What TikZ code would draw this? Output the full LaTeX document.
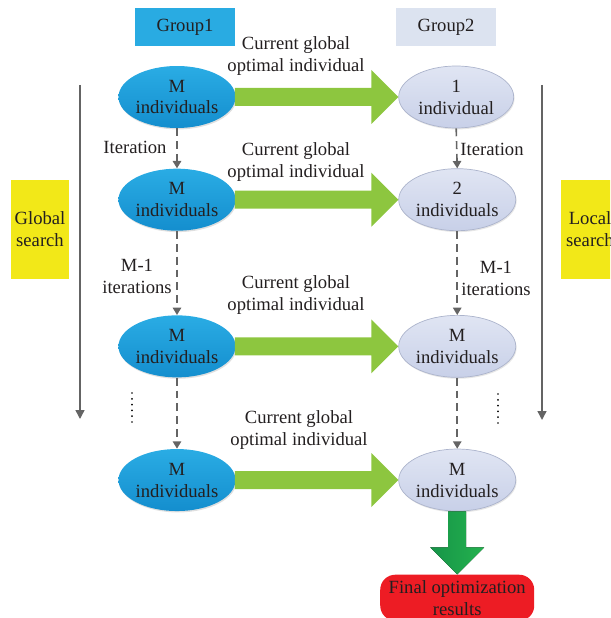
\documentclass[tikz,border=0pt]{standalone}
\usepackage{fontspec}
\setmainfont{Liberation Serif}
\usepackage{xcolor}
\usetikzlibrary{positioning,calc,shapes.geometric,shadows,arrows.meta}

\definecolor{grpcyan}{RGB}{41,171,226}
\definecolor{grplav}{RGB}{220,227,240}
\definecolor{gltop}{RGB}{42,172,228}
\definecolor{glbot}{RGB}{20,142,206}
\definecolor{lctop}{RGB}{224,229,243}
\definecolor{lcbot}{RGB}{200,208,232}
\definecolor{lcline}{RGB}{172,180,204}
\definecolor{fwdgreen}{RGB}{141,198,63}
\definecolor{findark}{RGB}{22,148,72}
\definecolor{finlight}{RGB}{36,178,78}
\definecolor{resred}{RGB}{237,28,36}
\definecolor{srchyel}{RGB}{242,232,24}
\definecolor{arrgray}{RGB}{100,100,100}
\definecolor{txt}{RGB}{35,31,32}

\begin{document}
\begin{tikzpicture}[x=0.02cm,y=-0.02cm,
				font=\fontsize{10.6}{12.5}\selectfont,
				every node/.style={text=txt},
				grp/.style={
					inner sep=0pt, align=center,
					minimum width=2.02cm,
					minimum height=0.76cm,
				},
				gbox/.style={
					ellipse, inner sep=0pt, align=center,
					minimum width=2.3cm, minimum height=1.24cm,
					top color=gltop, bottom color=glbot,
					drop shadow={opacity=0.25,shadow xshift=0.5pt,shadow yshift=-0.8pt},
				},
				lbox/.style={
					ellipse, inner sep=0pt, align=center,
					draw=lcline, line width=0.4pt,
					minimum width=2.3cm, minimum height=1.24cm,
					top color=lctop, bottom color=lcbot,
					drop shadow={opacity=0.2,shadow xshift=0.5pt,shadow yshift=-0.8pt},
				},
				lbl/.style={align=center, inner sep=0pt},
				srchbox/.style={
					fill=srchyel, inner sep=0pt, align=center,
					minimum width=1.16cm, minimum height=1.98cm,
				},
				itr/.style={
					draw=arrgray, line width=0.9pt,
					dash pattern=on 4.5pt off 2.8pt,
					-{Triangle[width=4.8pt,length=4.2pt]},
				},
				srch/.style={
					draw=arrgray, line width=0.8pt,
					-{Triangle[width=5pt,length=5pt]},
				},
				vdots/.style={
					line width=1.1pt, line cap=round,
					dash pattern=on 0pt off 3.3pt,
				},
				]
				\clip (0,0) rectangle (610,618);
				
				% group headers
				\node[grp, fill=grpcyan] (grp1) at (185,27) {Group1};
				\node[grp, fill=grplav] (grp2) at (446,27) {Group2};
				
				% side boxes
				\node[srchbox] (gsearch) at (40,229.5) {Global\\search};
				\node[srchbox] (lsearch) at (590,229.5) {Local\\search};
				
				% group1 column
				\node[gbox] (gl1) at (177,97) {M\\individuals};
				\node[gbox, below=0.8cm of gl1] (gl2) {M\\individuals};
				\node[gbox, below=1.68cm of gl2] (gl3) {M\\individuals};
				\node[gbox, below=1.42cm of gl3] (gl4) {M\\individuals};
				
				% group2 column
				\node[lbox, right=3.25cm of gl1] (lc1) {1\\individual};
				\node[lbox, right=3.25cm of gl2] (lc2) {2\\individuals};
				\node[lbox, right=3.25cm of gl3] (lc3) {M\\individuals};
				\node[lbox, right=3.25cm of gl4] (lc4) {M\\individuals};
				
				\node[draw=none, fill=resred, rounded corners=0.3cm,
				minimum width=3.08cm, minimum height=0.92cm, inner sep=0pt,
				align=center, below=1.26cm of lc4] (res)
				{Final optimization\\results};
				
				% transfer arrows
				\foreach \i in {1,...,4}
				\fill[fwdgreen] ($(gl\i.east)+(-1,-9)$) -- ($(lc\i.west)+(-27,-9)$)
				-- ($(lc\i.west)+(-27,-27)$) -- (lc\i.west) -- ($(lc\i.west)+(-27,27)$)
				-- ($(lc\i.west)+(-27,9)$) -- ($(gl\i.east)+(-1,9)$) -- cycle;
				
				\fill[left color=findark, right color=finlight]
				($(lc4.south)+(-9,0)$) -- ($(res.north)+(-9,-27)$)
				-- ($(res.north)+(-27,-27)$) -- (res.north) -- ($(res.north)+(27,-27)$)
				-- ($(res.north)+(9,-27)$) -- ($(lc4.south)+(9,0)$) -- cycle;
				
				\node[lbl] (cg1) at (296,56) {Current global\\optimal individual};
				\node[lbl] (cg2) at (296,162) {Current global\\optimal individual};
				\node[lbl] (cg3) at (296,295) {Current global\\optimal individual};
				\node[lbl] (cg4) at (299,430) {Current global\\optimal individual};
				
				% iterations
				\draw[itr] (gl1.south) -- (gl2.north);
				\draw[itr] (gl2.south) -- (gl3.north);
				\draw[itr] (gl3.south) -- (gl4.north);
				\draw[itr] (lc1.south) -- (lc2.north);
				\draw[itr] (lc2.south) -- (lc3.north);
				\draw[itr] (lc3.south) -- (lc4.north);
				
				\node[lbl] (it1) at (135,147) {Iteration};
				\node[lbl] (it2) at (492,149) {Iteration};
				\node[lbl] (mi1) at (137,276) {M-1\\iterations};
				\node[lbl] (mi2) at (496,278) {M-1\\iterations};
				
				\draw[vdots] (132,393) -- (132,424);
				\draw[vdots] (498,394) -- (498,428);
				
				% search direction
				\coordinate (gtop) at (80,85);
				\coordinate (gend) at (80,419);
				\coordinate (ltop) at (542,85);
				\coordinate (lend) at (542,420);
				\draw[srch] (gtop) -- (gend);
				\draw[srch] (ltop) -- (lend);
			\end{tikzpicture}
\end{document}
